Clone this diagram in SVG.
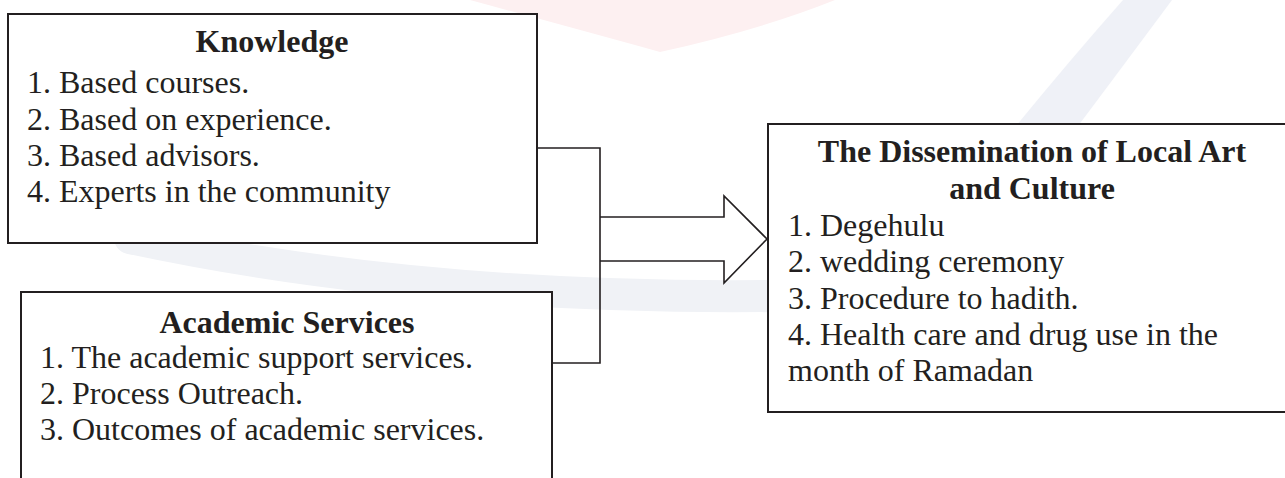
<svg xmlns="http://www.w3.org/2000/svg" width="1285" height="478" viewBox="0 0 1285 478">
  <style>
    .box { fill: #ffffff; stroke: #231f20; stroke-width: 2; }
    .wire { fill: none; stroke: #231f20; stroke-width: 1.6; }
    .title { font-family: "Liberation Serif", "Times New Roman", serif; font-size: 32px; font-weight: bold; fill: #231f20; text-anchor: middle; }
    .item { font-family: "Liberation Serif", "Times New Roman", serif; font-size: 32px; fill: #231f20; }
  </style>

  <rect width="1285" height="478" fill="#ffffff"/>

  <!-- faint background emblem -->
  <g id="emblem">
    <path d="M 470 0 L 835 0 Q 760 30 660 52 Q 580 30 470 0 Z" fill="#fdf0f1"/>
    <path d="M 1123 0 L 1172 0 Q 1120 70 1078 126 L 1016 126 Q 1070 60 1123 0 Z" fill="#eff1f7"/>
    <path d="M 130 238 Q 420 300 775 296" fill="none" stroke="#f0f2f6" stroke-width="32" stroke-linecap="round"/>
  </g>

  <!-- connectors: two inputs joined into a block arrow -->
  <g id="connectors">
    <polyline class="wire" points="527,148 600,148 600,363 552,363"/>
    <path class="wire" d="M 600 217 L 724 217 L 724 196 L 767 239 L 724 283 L 724 261 L 600 261"/>
  </g>

  <g id="knowledge">
    <rect class="box" x="8" y="14" width="529" height="229"/>
    <text class="title" x="272" y="52">Knowledge</text>
    <text class="item" x="27" y="93">1. Based courses.</text>
    <text class="item" x="27" y="130">2. Based on experience.</text>
    <text class="item" x="27" y="166">3. Based advisors.</text>
    <text class="item" x="27" y="202">4. Experts in the community</text>
  </g>

  <g id="academic-services">
    <rect class="box" x="21" y="292" width="531" height="200"/>
    <text class="title" x="287" y="333">Academic Services</text>
    <text class="item" x="40" y="368">1. The academic support services.</text>
    <text class="item" x="40" y="404">2. Process Outreach.</text>
    <text class="item" x="40" y="440">3. Outcomes of academic services.</text>
  </g>

  <g id="dissemination">
    <rect class="box" x="768" y="124" width="530" height="288"/>
    <text class="title" x="1032" y="162">The Dissemination of Local Art</text>
    <text class="title" x="1032" y="199">and Culture</text>
    <text class="item" x="788" y="236">1. Degehulu</text>
    <text class="item" x="788" y="272">2. wedding ceremony</text>
    <text class="item" x="788" y="309">3. Procedure to hadith.</text>
    <text class="item" x="788" y="345">4. Health care and drug use in the</text>
    <text class="item" x="788" y="381">month of Ramadan</text>
  </g>
</svg>
